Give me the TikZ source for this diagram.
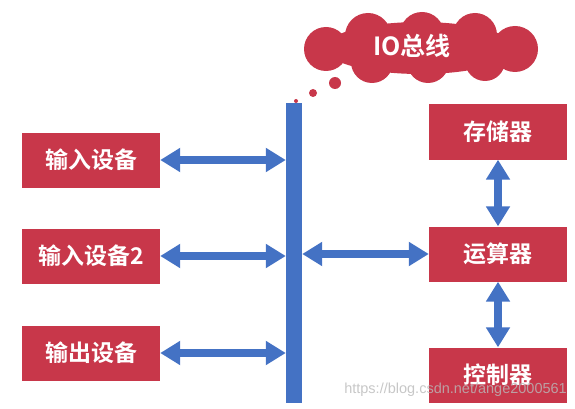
\documentclass[tikz,border=0pt]{standalone}
\usepackage{fontspec}
\setmainfont{Liberation Sans}
\newfontfamily\cjk{Noto Sans CJK SC}[BoldFont={Noto Sans CJK SC Bold}]
\usetikzlibrary{arrows.meta}
\definecolor{boxred}{HTML}{C8374A}
\definecolor{busblue}{HTML}{4472C4}
\tikzset{
  unit/.style={fill=boxred, text=white, minimum width=138pt, minimum height=55pt, inner sep=0pt,
    font=\cjk\bfseries\fontsize{23}{26}\selectfont},
  link/.style={busblue, line width=8pt, {Triangle[width=23pt,length=20pt]}-{Triangle[width=23pt,length=20pt]}}
}
\begin{document}
\begin{tikzpicture}[x=1pt,y=-1pt]
\useasboundingbox (0,0) rectangle (575,409);
% bus
\node[fill=busblue, minimum width=16pt, minimum height=300pt, inner sep=0pt] (bus) at (294,253) {};
% left boxes
\node[unit] (in1) at (91,160) {输入设备};
\node[unit] (in2) at (91,256) {输入设备2};
\node[unit] (out) at (91,353) {输出设备};
% right boxes
\node[unit] (mem) at (498,132) {存储器};
\node[unit] (alu) at (498,254) {运算器};
\node[unit] (ctl) at (498,375) {控制器};
% arrows
\draw[link] (in1.east) -- (in1.east -| bus.west);
\draw[link] (in2.east) -- (in2.east -| bus.west);
\draw[link] (out.east) -- (out.east -| bus.west);
\draw[link] (alu.west -| bus.east) -- (alu.west);
\draw[link] (mem.south) -- (alu.north);
\draw[link] (alu.south) -- (ctl.north);
% cloud
\fill[boxred] (420,48) ellipse (95pt and 26pt)
  (326,49) circle (22pt)
  (368,36) circle (23pt)
  (422,34) circle (22pt)
  (475,35) circle (22pt)
  (515,49) circle (23pt)
  (372,62) circle (21pt)
  (428,62) circle (21pt)
  (485,61) circle (20pt);
\node[text=white, font=\cjk\bfseries\fontsize{25}{28}\selectfont, inner sep=0pt] (cloud) at (412,46) {IO总线};
\fill[boxred] (335,83) circle (6pt);
\fill[boxred] (313,93) circle (4pt);
\fill[boxred] (296,101) circle (2pt);
% watermark
\node[anchor=east, text=gray!55, text opacity=0.8, font=\fontsize{14.5}{16}\selectfont, inner sep=0pt] (wm) at (567,390) {https://blog.csdn.net/ange2000561};
\end{tikzpicture}
\end{document}
